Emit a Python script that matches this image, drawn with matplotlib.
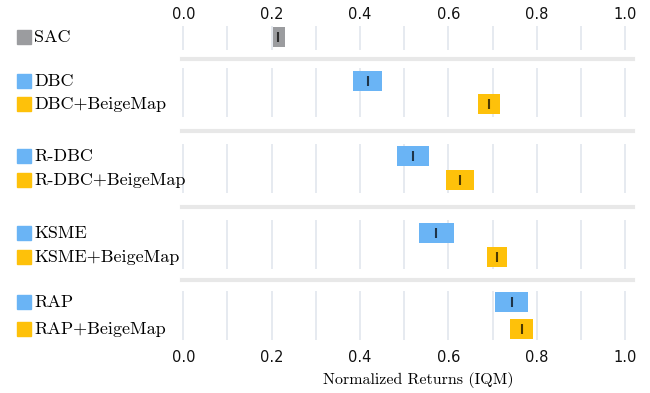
import numpy as np
import matplotlib.pyplot as plt
from matplotlib.lines import Line2D

# IQM of normalized returns with confidence intervals
groups = [["SAC"],
          ["DBC", "DBC+BeigeMap"],
          ["R-DBC", "R-DBC+BeigeMap"],
          ["KSME", "KSME+BeigeMap"],
          ["RAP", "RAP+BeigeMap"]]
iqm_low = [[0.203], [0.383, 0.667], [0.484, 0.595], [0.534, 0.688], [0.706, 0.740]]
iqm_med = [[0.215], [0.417, 0.693], [0.519, 0.626], [0.573, 0.709], [0.743, 0.766]]
iqm_high = [[0.230], [0.450, 0.717], [0.556, 0.658], [0.612, 0.733], [0.780, 0.792]]

xticks = [0.0, 0.2, 0.4, 0.6, 0.8, 1.0]

C_SAC = '#9b9c9f'
C_BASE = '#6ab4f5'
C_BEIGE = '#fec10a'


def color_for(name):
    if name == 'SAC':
        return C_SAC
    if 'BeigeMap' in name:
        return C_BEIGE
    return C_BASE


W, H = 650, 393
fig = plt.figure(figsize=(W / 100, H / 100), dpi=100)

# layout in pixels
x_left, x_right = 182, 633
tops = [26, 68, 144, 220, 291]
bottoms = [50, 117, 193, 269, 340]
row_off = [[11], [13, 36], [12, 36], [13, 37], [11, 38]]
bar_px = 20
xmin = -0.003
xmax = 1.018

label_font = 'cmr10'

axes = []
for g, names in enumerate(groups):
    ax = fig.add_axes([x_left / W, 1 - bottoms[g] / H,
                       (x_right - x_left) / W, (bottoms[g] - tops[g]) / H])
    hpx = bottoms[g] - tops[g]
    ax.set_ylim(hpx, 0)
    ax.set_xlim(xmin, xmax)
    for i, name in enumerate(names):
        yc = row_off[g][i]
        lo = iqm_low[g][i]
        hi = iqm_high[g][i]
        ax.barh(yc, hi - lo, left=lo, height=bar_px, color=color_for(name),
                zorder=3)
        ax.plot([iqm_med[g][i]], [yc], marker='|', markersize=6.5,
                markeredgewidth=1.5, color='k', alpha=0.7, zorder=4)
        # legend-like label on the left
        tr = ax.get_yaxis_transform()
        ax.plot([(24 - x_left) / (x_right - x_left)], [yc], marker='s',
                markersize=10, color=color_for(name), transform=tr,
                clip_on=False)
        ax.text((34 - x_left) / (x_right - x_left), yc, name, transform=tr,
                fontsize=13, family=label_font, va='center', ha='left')

    ax.set_xticks(xticks)
    ax.set_xticks(np.arange(0, 1.01, 0.1), minor=True)
    ax.grid(True, axis='x', which='both', color='#e4e8ef', linewidth=1.3,
            zorder=0)
    ax.set_axisbelow(True)
    ax.set_yticks([])
    for s in ax.spines.values():
        s.set_visible(False)
    ax.tick_params(axis='x', which='both', length=0, labelsize=10.5,
                   colors='#111111')
    if g == 0:
        ax.tick_params(axis='x', top=True, labeltop=True, bottom=False,
                       labelbottom=False, pad=3)
    elif g == len(groups) - 1:
        ax.tick_params(axis='x', pad=7)
    else:
        ax.tick_params(axis='x', labelbottom=False)
    ax.set_xticklabels([f'{t:.1f}' for t in xticks])
    axes.append(ax)

# grey separators between method groups
for g in range(len(groups) - 1):
    ymid = (bottoms[g] + tops[g + 1]) / 2
    fig.add_artist(Line2D([x_left / W, x_right / W], [1 - ymid / H, 1 - ymid / H],
                          color='#e8e8e8', linewidth=3, transform=fig.transFigure))

fig.text(418 / W, 1 - 380 / H, 'Normalized Returns (IQM)', family=label_font,
         fontsize=11.5, ha='center', va='center')

fig.savefig('out.png', dpi=100)
